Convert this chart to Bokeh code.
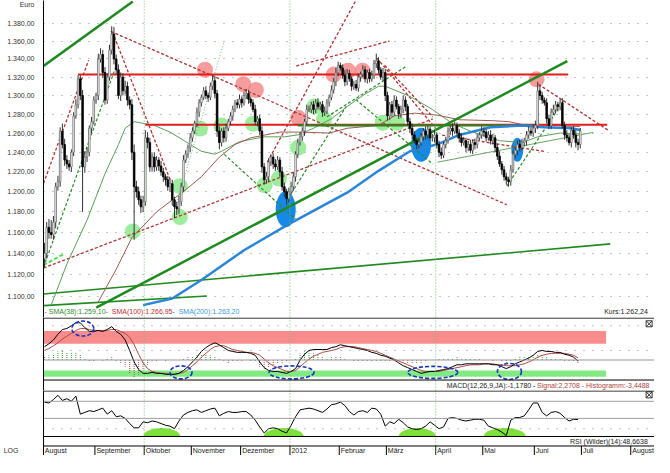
from bokeh.plotting import figure
from bokeh.models import Range1d, FixedTicker, Span
from bokeh.layouts import column
from bokeh.embed import file_html
from bokeh.resources import INLINE
from bokeh.core.properties import value

FONT = "Liberation Sans"
FS = "7px"

# ---------------- data (gold in EUR, daily, Aug 2011 - Jul 2012) ----------------
first_open = 1135.0
closes = [
    1140, 1165, 1160, 1158, 1170, 1205, 1210, 1262, 1248, 1232, 1228, 1225, 1240, 1278, 1290, 1318, 1300, 1225, 1235, 1240,
    1265, 1272, 1295, 1300, 1340, 1345, 1325, 1295, 1320, 1350, 1368, 1340, 1328, 1300, 1320, 1305, 1310, 1295, 1290, 1240,
    1205, 1200, 1192, 1185, 1190, 1255, 1250, 1225, 1235, 1225, 1232, 1226, 1220, 1215, 1212, 1205, 1208, 1192, 1185, 1183,
    1190, 1205, 1232, 1238, 1245, 1255, 1262, 1270, 1282, 1292, 1298, 1305, 1300, 1298, 1310, 1316, 1302, 1262, 1250, 1262,
    1255, 1265, 1272, 1278, 1285, 1292, 1290, 1296, 1292, 1300, 1302, 1296, 1292, 1285, 1272, 1275, 1262, 1225, 1212, 1215,
    1230, 1235, 1228, 1225, 1232, 1220, 1205, 1200, 1193, 1200, 1205, 1215, 1238, 1250, 1256, 1262, 1272, 1285, 1285, 1290,
    1285, 1292, 1288, 1290, 1282, 1283, 1292, 1298, 1306, 1315, 1325, 1333, 1330, 1322, 1315, 1324, 1318, 1310, 1312, 1308,
    1320, 1323, 1328, 1318, 1325, 1318, 1322, 1335, 1338, 1328, 1320, 1325, 1300, 1278, 1290, 1282, 1295, 1288, 1280, 1285,
    1295, 1288, 1272, 1265, 1258, 1252, 1248, 1250, 1256, 1262, 1258, 1264, 1255, 1255, 1258, 1248, 1240, 1237, 1248, 1252,
    1262, 1265, 1262, 1268, 1260, 1255, 1250, 1252, 1245, 1248, 1242, 1250, 1248, 1255, 1258, 1262, 1261, 1255, 1258, 1252,
    1255, 1245, 1236, 1228, 1222, 1215, 1212, 1210, 1222, 1238, 1242, 1248, 1245, 1250, 1252, 1258, 1262, 1260, 1265, 1268,
    1305, 1300, 1295, 1292, 1275, 1268, 1282, 1285, 1290, 1288, 1292, 1268, 1258, 1255, 1250, 1263, 1258, 1250, 1248, 1262.24,
]
up_wick = [
    10, 5, 8, 12, 6, 4, 6, 4, 8, 6, 5, 4, 3, 4, 6, 4, 4, 6, 6, 5,
    3, 5, 4, 3, 6, 7, 5, 6, 4, 6, 9, 8, 5, 6, 5, 4, 6, 5, 4, 6,
    8, 6, 5, 4, 6, 8, 6, 5, 4, 5, 4, 3, 5, 4, 3, 4, 5, 4, 3, 5,
    6, 4, 5, 4, 3, 5, 4, 3, 5, 4, 3, 4, 5, 3, 4, 6, 5, 4, 5, 3,
    4, 5, 3, 4, 4, 3, 4, 5, 3, 4, 5, 4, 3, 4, 5, 3, 4, 5, 4, 5,
    4, 3, 4, 5, 4, 3, 5, 4, 3, 4, 5, 4, 3, 4, 5, 4, 3, 5, 4, 3,
    4, 4, 5, 3, 4, 5, 4, 3, 5, 4, 5, 4, 3, 4, 6, 5, 4, 3, 4, 5,
    4, 3, 5, 4, 3, 4, 5, 4, 8, 4, 3, 5, 4, 4, 3, 4, 5, 4, 3, 4,
    5, 4, 3, 4, 5, 4, 3, 4, 4, 3, 5, 4, 3, 4, 5, 3, 4, 5, 3, 4,
    4, 3, 5, 4, 3, 4, 5, 4, 3, 4, 5, 3, 4, 4, 3, 5, 4, 3, 4, 5,
    4, 3, 4, 5, 3, 4, 4, 3, 5, 4, 3, 4, 5, 4, 3, 4, 5, 4, 4, 5,
    10, 6, 4, 3, 5, 4, 4, 5, 4, 3, 4, 5, 4, 5, 4, 3, 4, 5, 4, 3,
]
dn_wick = [
    8, 5, 6, 4, 5, 6, 4, 5, 4, 6, 5, 4, 5, 4, 3, 4, 5, 45, 6, 5,
    4, 5, 3, 4, 5, 4, 6, 5, 4, 4, 5, 6, 5, 4, 6, 5, 4, 6, 5, 8,
    52, 6, 5, 6, 5, 4, 6, 5, 4, 5, 4, 5, 4, 5, 6, 4, 5, 6, 11, 6,
    5, 4, 5, 3, 4, 5, 4, 3, 4, 5, 4, 3, 4, 5, 3, 4, 5, 6, 7, 4,
    5, 4, 3, 4, 5, 3, 4, 4, 5, 3, 4, 5, 4, 3, 4, 5, 4, 6, 5, 4,
    5, 4, 5, 4, 3, 5, 4, 5, 6, 4, 3, 4, 5, 4, 3, 4, 5, 4, 3, 4,
    5, 4, 3, 4, 5, 4, 3, 4, 3, 4, 5, 4, 3, 4, 5, 4, 3, 5, 4, 3,
    4, 5, 3, 4, 5, 4, 3, 4, 5, 4, 3, 4, 6, 5, 4, 5, 4, 3, 5, 4,
    4, 5, 4, 5, 4, 3, 5, 4, 3, 4, 5, 4, 3, 4, 5, 4, 5, 4, 3, 4,
    3, 4, 5, 3, 4, 5, 4, 3, 5, 4, 3, 4, 5, 4, 3, 4, 5, 4, 3, 4,
    4, 5, 4, 3, 5, 4, 5, 5, 4, 3, 4, 5, 4, 3, 4, 5, 4, 3, 4, 5,
    4, 5, 4, 3, 5, 4, 4, 3, 4, 5, 4, 3, 5, 4, 3, 5, 4, 5, 6, 4,
]

sma38_i = [3, 10, 19, 27, 33, 36, 40, 49, 56, 63, 70, 76, 79, 87, 98, 107, 113, 120, 128, 135,
           142, 149, 152, 163, 173, 182, 190, 195, 203, 213, 220, 230, 239]
sma38_v = [1092, 1130, 1172, 1218, 1248, 1265, 1272, 1268, 1261, 1251, 1241, 1238, 1241, 1251, 1256, 1256, 1258, 1265, 1275, 1288,
           1300, 1310, 1310, 1299, 1285, 1270, 1262, 1258, 1252, 1250, 1256, 1260, 1259.1]
sma100_i = [24, 32, 39, 50, 63, 70, 78, 85, 92, 105, 113, 127, 135, 149, 156, 165, 175, 185, 200, 207, 213, 225, 235, 239]
sma100_v = [1095, 1125, 1155, 1180, 1202, 1215, 1235, 1248, 1255, 1261, 1261, 1260, 1265, 1268, 1278, 1281, 1279, 1274, 1273, 1272,
            1269, 1268, 1267, 1266.95]
sma200_i = [44, 57, 70, 89, 109, 135, 149, 163, 175, 185, 199, 213, 223, 235, 239]
sma200_v = [1092, 1098, 1115, 1143, 1168, 1199, 1221, 1241, 1248, 1258, 1266, 1268, 1266, 1265, 1263.2]

# trend lines: (i0, p0, i1, p1)
thick_green = [(-0.4, 1332.3, 39.4, 1405.7), (23.1, 1089.8, 233.2, 1337.7)]
mid_green = [(-0.4, 1102.1, 252.4, 1149.0), (-0.4, 1091.5, 72.4, 1100.3)]
thin_green = [(175.3, 1229.8, 244.8, 1260.7)]
red_level = [(15, 1322.8, 233.6, 1322.8), (45, 1268.8, 251, 1268.8)]
green_level = [(113, 1268.0, 218, 1268.0)]
red_dashed = [(29.6, 1371.2, 206.2, 1187.1), (30.4, 1370.1, 56.2, 1211.3), (-0.4, 1208.4, 19.7, 1338.7),
              (-0.4, 1126.2, 173.2, 1274.9), (99.4, 1229.9, 138.9, 1406.8), (148.3, 1340.9, 174.5, 1264.7),
              (151.7, 1333.0, 173.2, 1277.0), (220.3, 1312.2, 251.6, 1262.7), (177.4, 1257.7, 223.3, 1240.7),
              (112.3, 1332.2, 153.9, 1360.2)]
green_dashed = [(-0.4, 1127.1, 31.7, 1330.2), (80.2, 1237.8, 113.2, 1170.3), (110.2, 1198.7, 134.6, 1288.2),
                (126, 1277.1, 161.6, 1332.3), (138.9, 1295.5, 173.2, 1227.9), (206.2, 1205.5, 231.9, 1295.5)]
green_dotted = [(58.7, 1186.3, 80.2, 1360.2)]
lime_dashed = [(-0.4, 1128.9, 9, 1139.8)]

green_marks_i = [39.4, 60.4, 60.4, 69.4, 78.9, 93, 98.2, 104.6, 113.2, 120.4, 124.7, 150.9, 157.3]
green_marks_p = [1161, 1205.5, 1174.9, 1264.7, 1267.8, 1269.8, 1206.5, 1213.2, 1244.7, 1288.2, 1274.9, 1270.8, 1270.8]
red_marks_i = [71.6, 88.7, 94.3, 113.2, 129, 135.4, 141.9, 219.5]
red_marks_p = [1328.1, 1312.2, 1305.9, 1276.0, 1322.8, 1327.0, 1327.0, 1317.5]
blue_marks_i = [107.6, 168, 210.9]
blue_marks_p = [1182.5, 1247.7, 1242.7]

# MACD, signal and RSI (every 2nd trading day)
macd = [14, 17, 21, 27, 32, 33, 36, 39, 39, 34, 30, 30, 31, 30, 32, 35, 30, 27, 21, 10,
        -2, -10, -14, -14, -13, -14, -14, -15, -15, -15, -14, -11, -7, -2, 3, 9, 13, 16, 18, 16,
        13, 10, 9, 8, 8, 8, 7, 5, -2, -8, -11, -12, -12, -13, -14, -12, -9, 0, 6, 10,
        11, 11, 11, 11, 13, 14, 16, 15, 14, 13, 12, 11, 10, 8, 7, 5, 4, 2, 0, -3,
        -6, -8, -10, -12, -14, -13, -12, -12, -11, -10, -9, -7, -5, -5, -4, -4, -4, -4, -4, -4,
        -5, -5, -7, -9, -7, -4, -2, 0, 2, 5, 9, 10, 9, 9, 8, 8, 6, 5, 3, -1.18]
signal = [10, 12, 15, 18, 22, 25, 28, 31, 33, 33, 32, 31, 31, 31, 31, 32, 32, 30, 28, 24,
          16, 6, -3, -9, -12, -13, -14, -14, -15, -15, -14, -13, -10, -6, -2, 3, 7, 11, 14, 15,
          15, 13, 11, 10, 9, 8, 8, 7, 5, 1, -3, -6, -8, -10, -12, -12, -11, -7, -3, 1,
          4, 6, 8, 9, 10, 11, 13, 14, 14, 14, 13, 12, 11, 10, 9, 7, 5, 3, 1, -1,
          -3, -5, -7, -9, -11, -12, -12, -12, -12, -11, -10, -9, -8, -7, -6, -5, -5, -5, -4, -4,
          -4, -5, -5, -6, -6, -6, -5, -4, -2, 0, 3, 5, 6, 7, 7, 7, 7, 6, 5, 2.27]
rsi = [69, 68, 72, 77, 71, 73, 70, 76, 55, 57, 59, 58, 60, 62, 55, 59, 52, 53, 50, 44,
       39, 39, 46, 45, 47, 46, 44, 42, 41, 38, 47, 54, 57, 59, 60, 57, 59, 61, 62, 53,
       56, 58, 57, 57, 58, 58, 54, 48, 40, 33, 38, 39, 38, 35, 33, 42, 52, 60, 61, 62,
       61, 59, 57, 61, 66, 67, 69, 65, 58, 54, 58, 59, 57, 62, 61, 55, 41, 46, 44, 49,
       45, 40, 38, 37, 38, 41, 46, 42, 38, 40, 50, 51, 50, 48, 47, 48, 49, 49, 48, 41,
       39, 37, 34, 30, 48, 51, 51, 53, 60, 68, 68, 57, 53, 57, 58, 56, 51, 47, 49, 48.66]
osc_i = list(range(0, 240, 2))

macd_bands = [(17, 30.5, "#f78080"), (-17.7, -11, "#74e874")]
macd_circles_i = [17.1, 60.9, 110.2, 173.2, 207.4]
macd_circles_v = [33, -13, -13, -13, -12]
macd_circles_w = [22, 22, 45, 50, 24]
macd_circles_h = [15, 13, 13, 12, 16]
rsi_blobs_i = [52.3, 106.7, 166.3, 205.3]
rsi_blobs_w = [37, 40, 37, 42]

yticks = [1100, 1120, 1140, 1160, 1180, 1200, 1220, 1240, 1260, 1280, 1300, 1320, 1340, 1360, 1380]
ylabels = ["1.100,00", "1.120,00", "1.140,00", "1.160,00", "1.180,00", "1.200,00", "1.220,00", "1.240,00",
           "1.260,00", "1.280,00", "1.300,00", "1.320,00", "1.340,00", "1.360,00", "1.380,00"]
unit_label_at = 1402.5
month_starts = [0, 23, 45, 66, 88, 110, 132, 153, 175, 196, 219, 240, 262]
month_names = ["August", "September", "Oktober", "November", "Dezember", "2012", "Februar", "März",
               "April", "Mai", "Juni", "Juli", "August"]
quarter_starts = [45, 110, 175]

sma_legend = ["- ", "SMA(38):1.259,10", " - ", "SMA(100):1.266,95", " - ", "SMA(200):1.263,20"]
sma_legend_colors = ["#555555", "#2e8b2e", "#555555", "#c03030", "#555555", "#3a9ae0"]

# ---------------- derived ----------------
opens = [first_open] + closes[:-1]
idx = list(range(len(closes)))
highs = [max(o, c) + u for o, c, u in zip(opens, closes, up_wick)]
lows = [min(o, c) - d for o, c, d in zip(opens, closes, dn_wick)]
up_i = [i for i in idx if closes[i] >= opens[i]]
dn_i = [i for i in idx if closes[i] < opens[i]]

W = 654
LB = 34
XL, XR = -0.43, 272.1
xr = Range1d(XL, XR)


def base(height, yr, ylog=False):
    p = figure(width=W, height=height, x_range=xr, y_range=yr, y_axis_type="log" if ylog else "linear",
               x_axis_location=None, output_backend="svg", toolbar_location=None, title=None,
               min_border_left=LB, min_border_right=0, min_border_top=0, min_border_bottom=0)
    p.outline_line_color = None
    p.xgrid.visible = False
    p.background_fill_color = "white"
    p.yaxis.axis_line_color = "black"
    p.yaxis.major_tick_line_color = None
    p.yaxis.minor_tick_line_color = None
    p.yaxis.major_label_text_font = FONT
    p.yaxis.major_label_text_font_size = FS
    p.yaxis.major_label_text_color = "#333333"
    return p


def segs(p, lst, **kw):
    p.segment([s[0] for s in lst], [s[1] for s in lst], [s[2] for s in lst], [s[3] for s in lst], **kw)


def quarter_lines(p):
    for q in quarter_starts:
        p.add_layout(Span(location=q - 0.5, dimension="height", line_color="#6cc46c", line_dash="1 2", line_width=1))


def txt(p, x, y, s, color="#222222", align="left", **kw):
    p.text(x=x, y=y, text=s, text_color=color, text_font=value(FONT), text_font_size=FS,
           text_align=align, text_baseline="middle", **kw)


# ---------------- main price panel ----------------
p1 = base(317, Range1d(1080.8, 1406.8), ylog=True)
p1.yaxis.ticker = FixedTicker(ticks=yticks + [unit_label_at])
p1.ygrid.ticker = FixedTicker(ticks=yticks)
ov = dict(zip(yticks, ylabels))
ov[unit_label_at] = "Euro"
p1.yaxis.major_label_overrides = ov
p1.yaxis.major_label_standoff = 3
p1.ygrid.grid_line_color = "#8a8a8a"
p1.ygrid.grid_line_dash = "1 8"
quarter_lines(p1)

p1.scatter(green_marks_i, green_marks_p, size=16, fill_color="#7ee57e", fill_alpha=0.75, line_color=None)
p1.scatter(red_marks_i, red_marks_p, size=16, fill_color="#f28585", fill_alpha=0.8, line_color=None)
p1.ellipse(blue_marks_i, blue_marks_p, width=[20, 20, 12], height=[36, 34, 24], width_units="screen",
           height_units="screen", fill_color="#1688e8", line_color=None)

segs(p1, mid_green, line_color="#1f8a1f", line_width=1.6)
segs(p1, thin_green, line_color="#3d8f3d", line_width=0.8)
segs(p1, red_dashed, line_color="#b03232", line_width=1.3, line_dash="3 2")
segs(p1, green_dashed, line_color="#2a8a2a", line_width=1.2, line_dash="3 2")
segs(p1, green_dotted, line_color="#6cc46c", line_width=1, line_dash="1 2")
segs(p1, lime_dashed, line_color="#4fe04f", line_width=2, line_dash="4 2")

p1.line(sma38_i, sma38_v, line_color="#5a9e5a", line_width=1)
p1.line(sma100_i, sma100_v, line_color="#a05a50", line_width=1)

segs(p1, red_level, line_color="#e01c1c", line_width=2)
segs(p1, green_level, line_color="#1f8a1f", line_width=2)
segs(p1, thick_green, line_color="#1f8a1f", line_width=2.5)
p1.line(sma200_i, sma200_v, line_color="#2a84d8", line_width=2.5)

p1.segment(idx, highs, idx, lows, line_color="#333333", line_width=1)
p1.vbar(x=up_i, width=0.72, top=[closes[i] for i in up_i], bottom=[opens[i] for i in up_i],
        fill_color="white", line_color="#6e6e6e", line_width=0.8)
p1.vbar(x=dn_i, width=0.72, top=[opens[i] for i in dn_i], bottom=[closes[i] for i in dn_i],
        fill_color="black", line_color="black", line_width=0.8)

leg_y = 1085.9
txt(p1, [XL] * 6, [leg_y] * 6, sma_legend, color=sma_legend_colors,
    x_offset=[1, 5.3, 62.1, 68.3, 129, 135.2])
txt(p1, [269.1], [leg_y], ["Kurs:1.262,24"], align="right")

# ---------------- MACD panel ----------------
p2 = base(73, Range1d(-32, 44.6))
p2.yaxis.ticker = FixedTicker(ticks=[])
p2.ygrid.visible = False
for lo, hi, col in macd_bands:
    p2.quad(left=[XL], right=[250.5], bottom=[lo], top=[hi], fill_color=col, fill_alpha=0.9, line_color=None)
quarter_lines(p2)
for lv in [10, 36]:
    p2.add_layout(Span(location=lv, dimension="width", line_color="#8a8a8a", line_dash="1 8", line_width=1))
p2.add_layout(Span(location=0, dimension="width", line_color="#999999", line_width=1))
hist = [m - s for m, s in zip(macd, signal)]
pos_i = [i for i, h in zip(osc_i, hist) if h >= 0]
pos_h = [h for h in hist if h >= 0]
neg_i = [i for i, h in zip(osc_i, hist) if h < 0]
neg_h = [h for h in hist if h < 0]
p2.segment(pos_i, [0] * len(pos_i), pos_i, pos_h, line_color="#3c9c3c", line_width=1, line_dash="1 1")
p2.segment(neg_i, [0] * len(neg_i), neg_i, neg_h, line_color="#b05050", line_width=1, line_dash="1 1")
p2.line(osc_i, signal, line_color="#b04848", line_width=1)
p2.line(osc_i, macd, line_color="black", line_width=1)
p2.ellipse(macd_circles_i, macd_circles_v, width=macd_circles_w, height=macd_circles_h, width_units="screen",
           height_units="screen", fill_color=None, line_color="#1a36c0", line_width=1.6, line_dash="4 2")
p2.add_layout(Span(location=44, dimension="width", line_color="black", line_width=1))
p2.add_layout(Span(location=-21, dimension="width", line_color="black", line_width=1))
txt(p2, [219.0], [-26.5], ["MACD(12,26,9,JA):-1,1780 -"], align="right")
txt(p2, [219.7], [-26.5], ["Signal:2,2708 - Histogramm:-3,4488"], color="#b04040")
p2.scatter([269.7], [38], marker="square_x", size=6, fill_color="white", line_color="#333333")

# ---------------- RSI panel + time axis ----------------
p3 = base(65, Range1d(6.7, 82.6))
p3.yaxis.ticker = FixedTicker(ticks=[12.0])
p3.yaxis.major_label_overrides = {12.0: "LOG"}
p3.yaxis.major_label_standoff = 19
p3.ygrid.visible = False
p3.ellipse(rsi_blobs_i, [28.9] * len(rsi_blobs_i), width=rsi_blobs_w, height=[17] * len(rsi_blobs_i),
           width_units="screen", height_units="screen", fill_color="#7ee03a", line_color=None)
p3.quad(left=[XL], right=[XR], bottom=[6.7], top=[28.9], fill_color="white", line_color=None)
quarter_lines(p3)
for lv in [70, 50]:
    p3.add_layout(Span(location=lv, dimension="width", line_color="#a0a0a0", line_width=1))
p3.add_layout(Span(location=38, dimension="width", line_color="#8a8a8a", line_dash="1 8", line_width=1))
for lv in [82, 28.9, 17.8]:
    p3.add_layout(Span(location=lv, dimension="width", line_color="black", line_width=1))
p3.line(osc_i, rsi, line_color="black", line_width=1)
txt(p3, [269.1], [23.3], ["RSI (Wilder)(14):48,6638"], align="right")
p3.scatter([269.7], [77.5], marker="square_x", size=6, fill_color="white", line_color="#333333")
sep_x = [m - 0.5 for m in month_starts]
p3.segment(sep_x, [17.8] * len(sep_x), sep_x, [6.7] * len(sep_x), line_color="black", line_width=1)
txt(p3, sep_x, [12.0] * len(sep_x), month_names, x_offset=1.5)

layout = column(p1, p2, p3, spacing=0)
open("out.html", "w").write(file_html(layout, INLINE))
